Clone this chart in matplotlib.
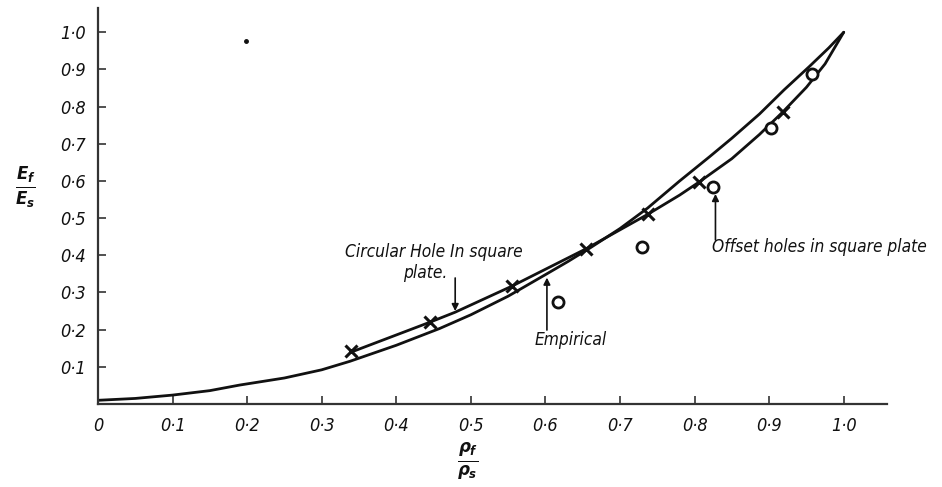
"""Modulus ratio vs density ratio for plates with holes."""

import matplotlib

matplotlib.use("Agg")
import matplotlib.pyplot as plt

# density ratio / modulus ratio
empirical_x = [0.0, 0.05, 0.1, 0.15, 0.19, 0.25, 0.3, 0.338, 0.4, 0.458, 0.5, 0.55,
               0.6, 0.63, 0.66, 0.7, 0.737, 0.78, 0.82, 0.85, 0.887, 0.92, 0.954, 0.98, 1.0]
empirical_y = [0.01, 0.015, 0.024, 0.036, 0.051, 0.07, 0.092, 0.115, 0.158, 0.203, 0.24, 0.29,
               0.348, 0.383, 0.42, 0.472, 0.527, 0.6, 0.665, 0.715, 0.78, 0.845, 0.908, 0.958, 1.0]

circular_x = [0.34, 0.445, 0.479, 0.555, 0.654, 0.737, 0.78, 0.806, 0.85, 0.887, 0.918,
              0.95, 0.975, 1.0]
circular_y = [0.14, 0.22, 0.247, 0.317, 0.417, 0.51, 0.562, 0.597, 0.66, 0.725, 0.785,
              0.852, 0.915, 1.0]

cross_x = [0.339, 0.445, 0.555, 0.654, 0.737, 0.806, 0.918]
cross_y = [0.142, 0.22, 0.317, 0.417, 0.511, 0.597, 0.785]

offset_x = [0.617, 0.729, 0.825, 0.903, 0.958]
offset_y = [0.274, 0.422, 0.583, 0.742, 0.887]

speck = (0.198, 0.976)

x_ticks = [0, 0.1, 0.2, 0.3, 0.4, 0.5, 0.6, 0.7, 0.8, 0.9, 1.0]
x_labels = ["0", "0·1", "0·2", "0·3", "0·4", "0·5", "0·6", "0·7", "0·8", "0·9", "1·0"]
y_ticks = [0.1, 0.2, 0.3, 0.4, 0.5, 0.6, 0.7, 0.8, 0.9, 1.0]
y_labels = ["0·1", "0·2", "0·3", "0·4", "0·5", "0·6", "0·7", "0·8", "0·9", "1·0"]

INK = "#111111"


def main() -> None:
    plt.rcParams["font.family"] = ["DejaVu Sans"]
    plt.rcParams["font.stretch"] = "condensed"
    plt.rcParams["mathtext.fontset"] = "custom"
    plt.rcParams["mathtext.it"] = "DejaVu Sans:italic:bold"
    plt.rcParams["mathtext.rm"] = "DejaVu Sans:bold"

    fig = plt.figure(figsize=(9.42, 4.87), dpi=100)
    ax = fig.add_axes([0.104, 0.1704, 0.8376, 0.813])
    ax.set_xlim(0, 1.058)
    ax.set_ylim(0, 1.065)

    for side in ("top", "right"):
        ax.spines[side].set_visible(False)
    for side in ("left", "bottom"):
        ax.spines[side].set_linewidth(1.6)
        ax.spines[side].set_color("#333333")

    ax.plot(empirical_x, empirical_y, color=INK, lw=2.0, solid_capstyle="round")
    ax.plot(circular_x, circular_y, color=INK, lw=2.0, solid_capstyle="round")
    ax.plot(cross_x, cross_y, ls="none", marker="x", ms=8, mew=2.2, color=INK)
    ax.plot(offset_x, offset_y, ls="none", marker="o", ms=8, mew=2.0,
            mfc="white", mec=INK)
    ax.plot(*speck, marker="o", ms=2.5, color=INK)

    ax.set_xticks(x_ticks)
    ax.set_xticklabels(x_labels)
    ax.set_yticks(y_ticks)
    ax.set_yticklabels(y_labels)
    ax.tick_params(direction="in", length=6, width=1.2, colors="#333333",
                   labelcolor=INK, labelsize=13, pad=9)
    for lab in ax.get_xticklabels() + ax.get_yticklabels():
        lab.set_style("italic")

    arrow = dict(arrowstyle="-|>", color=INK, lw=1.2, mutation_scale=10,
                 shrinkA=0, shrinkB=0)
    text_kw = dict(style="italic", fontsize=12.4, color=INK, va="center", ha="left")

    ax.text(0.331, 0.409, "Circular Hole In square", **text_kw)
    ax.text(0.409, 0.352, "plate.", **text_kw)
    ax.annotate("", xy=(0.479, 0.25), xytext=(0.479, 0.339), arrowprops=arrow)

    ax.text(0.586, 0.172, "Empirical", **text_kw)
    ax.annotate("", xy=(0.602, 0.34), xytext=(0.602, 0.199), arrowprops=arrow)

    ax.text(0.823, 0.422, "Offset holes in square plate", **text_kw)
    ax.annotate("", xy=(0.828, 0.565), xytext=(0.828, 0.441), arrowprops=arrow)

    fig.text(0.016, 0.616, r"$\frac{E_f}{E_s}$", fontsize=19, color=INK,
             ha="left", va="center")
    fig.text(0.496, 0.052, r"$\frac{\rho_f}{\rho_s}$", fontsize=19, color=INK,
             ha="center", va="center")

    fig.savefig("out.png", dpi=100)
    plt.close(fig)


if __name__ == "__main__":
    main()
